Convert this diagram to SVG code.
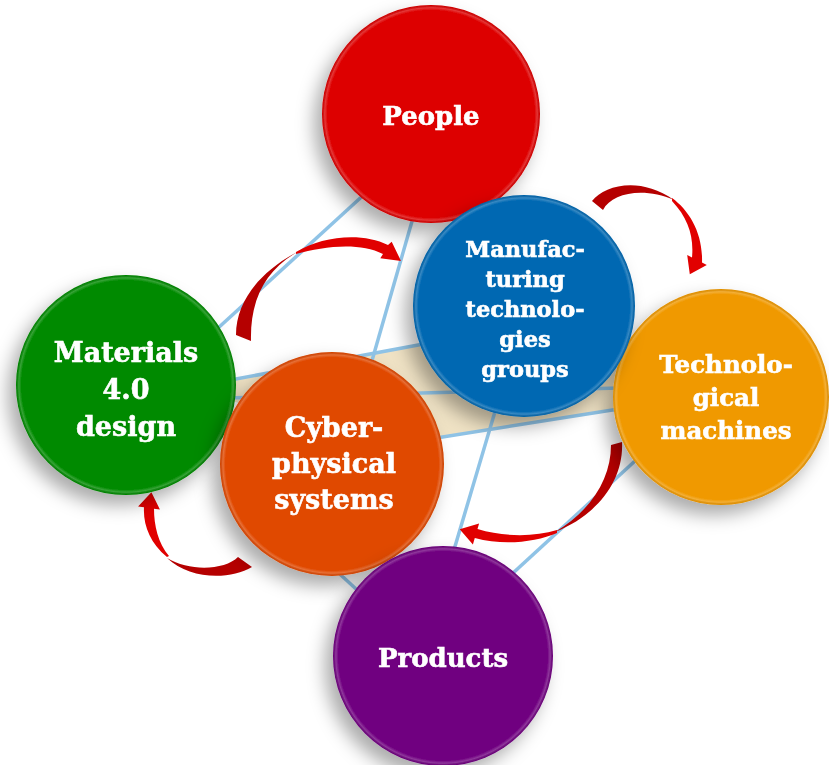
<svg xmlns="http://www.w3.org/2000/svg" width="829" height="765" viewBox="0 0 829 765">
<style>
.ln{stroke:#8fc3e6;stroke-width:3.5;fill:none;stroke-linecap:butt}
.tl{fill:#b50000}
.hd{fill:#e10000}
.lbl{font-family:"DejaVu Serif",serif;font-weight:bold;font-size:27px;fill:#ffffff;stroke:#ffffff;stroke-width:0.6;text-anchor:middle}
.rim{fill:url(#rim)}
</style>
<defs>
<filter id="sh" x="-30%" y="-30%" width="160%" height="160%">
<feDropShadow dx="-8" dy="10" stdDeviation="9" flood-color="#000" flood-opacity="0.33"/>
</filter>
<radialGradient id="rim" cx="0.5" cy="0.5" r="0.5">
<stop offset="0" stop-color="#fff" stop-opacity="0"/>
<stop offset="0.95" stop-color="#fff" stop-opacity="0"/>
<stop offset="0.975" stop-color="#fff" stop-opacity="0.22"/>
<stop offset="1" stop-color="#000" stop-opacity="0.05"/>
</radialGradient>
</defs>
<rect width="829" height="765" fill="#ffffff"/>
<g id="connectors">
<polygon points="232,379 450,339 615,332 622,408 432,439 300,420 232,401" fill="#efe2c4"/>
<line class="ln" x1="380" y1="180" x2="205" y2="340"/>
<line class="ln" x1="421" y1="190" x2="365" y2="385"/>
<line class="ln" x1="540" y1="260" x2="448" y2="570"/>
<line class="ln" x1="660" y1="438" x2="500" y2="585"/>
<line class="ln" x1="330" y1="565" x2="368" y2="600"/>
<line class="ln" x1="225" y1="381" x2="445" y2="340"/>
<line class="ln" x1="225" y1="398" x2="620" y2="388"/>
<line class="ln" x1="430" y1="439" x2="625" y2="408"/>
<g id="arrow-materials-manufacturing">
<path class="tl" d="M236,335 C236,300 262,270 299,251 C265,270 250,300 251,341 Z"/>
<path class="hd" d="M296,252 C322,236 362,232 388,245 L391.7,241.8 L401,261 L380.3,258.2 L383,254 C360,242 324,246 296,254 Z"/>
</g>
<g id="arrow-manufacturing-technological">
<path class="tl" d="M592,201 C605,185 640,176 674,200 C645,187 612,192 603,210 Z"/>
<path class="hd" d="M672,198 C690,211 703,234 702,262.5 L706.8,265 L689.8,274.2 L687.2,255 L692,257.5 C694,236 688,218 672,201 Z"/>
</g>
<g id="arrow-technological-products">
<path class="tl" d="M622,442 C624,480 598,515 555,532 C592,510 611,478 611,445 Z"/>
<path class="hd" d="M557,530 C534,537 504,537 477.5,529 L479.1,523.4 L459.7,529.2 L472.9,544.6 L474.8,538 C504,546 536,542 557,533 Z"/>
</g>
<g id="arrow-cyber-materials">
<path class="tl" d="M252,567 C230,580 190,580 167,558 C190,572 225,570 238,557 Z"/>
<path class="hd" d="M167,557 C150,543 143,525 144,507.2 L138.1,506.4 L151.4,492.2 L159.9,509.6 L154,508.7 C154,525 158,543 169,556 Z"/>
</g>
</g>
<g id="materials" filter="url(#sh)">
<circle cx="126" cy="385" r="110" fill="#008a00"/>
<circle class="rim" cx="126" cy="385" r="110"/>
<text class="lbl" x="126" y="362">Materials</text>
<text class="lbl" x="126" y="399">4.0</text>
<text class="lbl" x="126" y="436">design</text>
</g>
<g id="people" filter="url(#sh)">
<circle cx="431" cy="114" r="109" fill="#dd0000"/>
<circle class="rim" cx="431" cy="114" r="109"/>
<text class="lbl" x="431" y="125" style="font-size:26px">People</text>
</g>
<g id="technological" filter="url(#sh)">
<circle cx="721" cy="397" r="108" fill="#f09900"/>
<circle class="rim" cx="721" cy="397" r="108"/>
<text class="lbl" x="726" y="373" style="font-size:24.5px">Technolo-</text>
<text class="lbl" x="726" y="406" style="font-size:24.5px">gical</text>
<text class="lbl" x="726" y="439" style="font-size:24.5px">machines</text>
</g>
<g id="manufacturing" filter="url(#sh)">
<circle cx="524" cy="306" r="111" fill="#0068b2"/>
<circle class="rim" cx="524" cy="306" r="111"/>
<text class="lbl" x="525" y="257" style="font-size:22.5px">Manufac-</text>
<text class="lbl" x="525" y="287" style="font-size:22.5px">turing</text>
<text class="lbl" x="525" y="317" style="font-size:22.5px">technolo-</text>
<text class="lbl" x="525" y="347" style="font-size:22.5px">gies</text>
<text class="lbl" x="525" y="377" style="font-size:22.5px">groups</text>
</g>
<g id="cyber" filter="url(#sh)">
<circle cx="332" cy="464" r="112" fill="#e04800"/>
<circle class="rim" cx="332" cy="464" r="112"/>
<text class="lbl" x="334" y="437">Cyber-</text>
<text class="lbl" x="334" y="473">physical</text>
<text class="lbl" x="334" y="509">systems</text>
</g>
<g id="products" filter="url(#sh)">
<circle cx="443" cy="656" r="110" fill="#700080"/>
<circle class="rim" cx="443" cy="656" r="110"/>
<text class="lbl" x="443" y="667" style="font-size:26px">Products</text>
</g>
</svg>
